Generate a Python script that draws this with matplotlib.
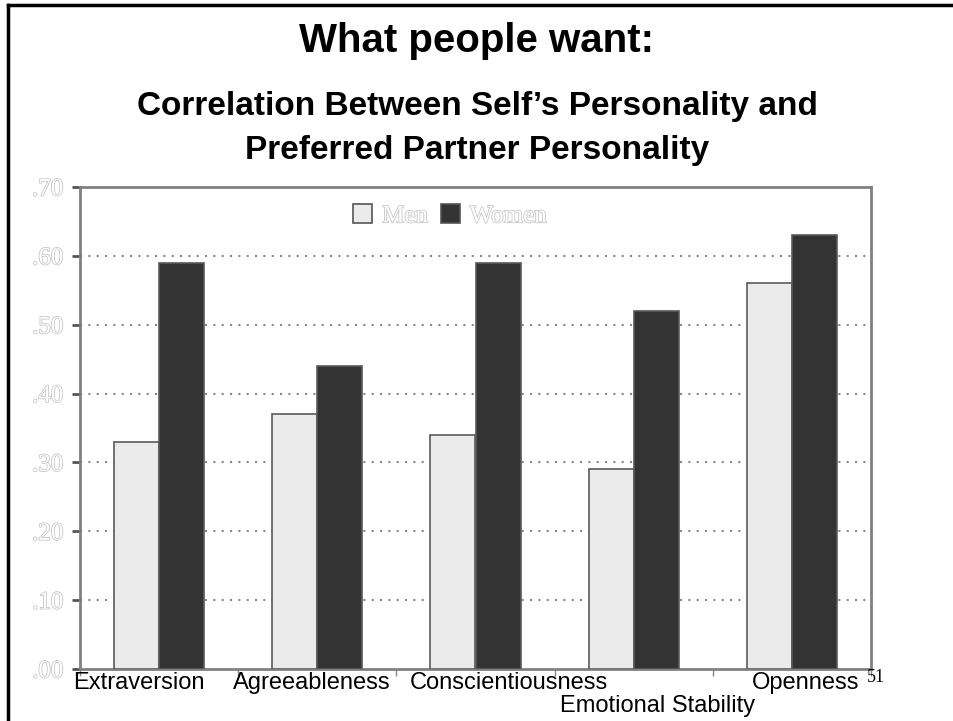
import numpy as np
import matplotlib.pyplot as plt
import matplotlib.patheffects as pe
from matplotlib.lines import Line2D
from matplotlib.patches import Patch

# Данни
categories = ['Extraversion', 'Agreeableness', 'Conscientiousness', 'Emotional Stability', 'Openness']
men = [0.33, 0.37, 0.34, 0.29, 0.56]
women = [0.59, 0.44, 0.59, 0.52, 0.63]
yticks = [0.0, 0.1, 0.2, 0.3, 0.4, 0.5, 0.6, 0.7]
ytick_labels = ['.00', '.10', '.20', '.30', '.40', '.50', '.60', '.70']

# Изместване на надписите (център в px, ред)
label_px = [139, 312, 509, 658, 806]
label_row = [0, 0, 0, 1, 0]

hollow = [pe.withStroke(linewidth=1.1, foreground='#c4c4c4')]

fig = plt.figure(figsize=(9.54, 7.21), dpi=100)
ax = fig.add_axes([80 / 954, 1 - 669 / 721, 791 / 954, 482 / 721])

x = np.arange(len(categories))
w = 0.285
ax.bar(x - w / 2, men, w, color='#ebebeb', edgecolor='#5a5a5a', linewidth=1.2, zorder=3)
ax.bar(x + w / 2, women, w, color='#333333', edgecolor='#5a5a5a', linewidth=1.2, zorder=3)

ax.set_xlim(-0.5, len(categories) - 0.5)
ax.set_ylim(0, 0.7)
ax.set_yticks(yticks)
ax.set_yticklabels(ytick_labels, family='Liberation Serif', fontsize=18, color='white',
                   path_effects=hollow)
ax.tick_params(axis='y', length=6, width=2, color='#555555', pad=6)
ax.set_xticks(np.arange(len(categories) + 1) - 0.5)
ax.set_xticklabels([])
ax.tick_params(axis='x', length=5, width=1, color='#888888', direction='out')
for v in yticks[1:-1]:
    ax.axhline(v, color='#888888', linestyle=(0, (1, 3)), linewidth=1.5, zorder=1)
for s in ax.spines.values():
    s.set_color('#808080')
    s.set_linewidth(2)

# Надписи на категориите
for name, px, row in zip(categories, label_px, label_row):
    fig.text(px / 954, 1 - (689 + 23 * row) / 721, name, ha='center', va='baseline',
             fontsize=17, family='Liberation Sans', color='black')
fig.text(867 / 954, 1 - 678 / 721, '51', ha='left', va='center', fontsize=13,
         family='Liberation Serif')

# Легенда
handles = [Patch(facecolor='#ebebeb', edgecolor='#555555', linewidth=1.2),
           Patch(facecolor='#333333', edgecolor='#555555', linewidth=1.2)]
leg = ax.legend(handles, ['Men', 'Women'], loc='center', bbox_to_anchor=(0.468, 0.94),
                ncol=2, frameon=False, handlelength=0.75, handleheight=0.75,
                handletextpad=0.4, columnspacing=0.5,
                prop={'family': 'Liberation Serif', 'size': 18})
for t in leg.get_texts():
    t.set_color('white')
    t.set_path_effects(hollow)

# Заглавие
fig.text(0.5, 1 - 41 / 721, 'What people want:', ha='center', va='center',
         fontsize=29, fontweight='bold', family='Liberation Sans')
fig.text(0.5, 1 - 106 / 721, 'Correlation Between Self\u2019s Personality and',
         ha='center', va='center', fontsize=24, fontweight='bold', family='Liberation Sans')
fig.text(0.5, 1 - 150 / 721, 'Preferred Partner Personality',
         ha='center', va='center', fontsize=24, fontweight='bold', family='Liberation Sans')

# Рамка на слайда
fig.add_artist(Line2D([8 / 954, 8 / 954], [0, 1 - 5 / 721], color='black', linewidth=2.5,
                      transform=fig.transFigure))
fig.add_artist(Line2D([8 / 954, 1], [1 - 5 / 721, 1 - 5 / 721], color='black', linewidth=2.5,
                      transform=fig.transFigure))

fig.savefig('out.png', dpi=100)
